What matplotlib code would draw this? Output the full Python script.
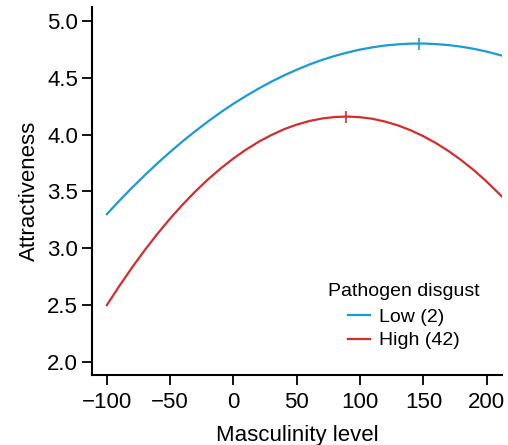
import matplotlib
matplotlib.use("Agg")
import matplotlib.pyplot as plt

plt.rcParams['font.family'] = ['Liberation Sans', 'DejaVu Sans']

masculinity = [-100, -90, -80, -70, -60, -50, -40, -30, -20, -10, 0, 10, 20, 30, 40,
               50, 60, 70, 80, 90, 100, 110, 120, 130, 140, 150, 160, 170, 180, 190, 200, 212]
low_attr = [3.300, 3.420, 3.534, 3.643, 3.748, 3.847, 3.942, 4.031, 4.116, 4.196, 4.271,
            4.340, 4.405, 4.465, 4.520, 4.570, 4.616, 4.656, 4.691, 4.721, 4.747, 4.767,
            4.783, 4.793, 4.799, 4.800, 4.795, 4.786, 4.772, 4.753, 4.729, 4.694]
high_attr = [2.501, 2.671, 2.833, 2.985, 3.128, 3.262, 3.386, 3.501, 3.607, 3.703, 3.790,
             3.868, 3.937, 3.996, 4.047, 4.087, 4.119, 4.141, 4.154, 4.158, 4.152, 4.138,
             4.113, 4.080, 4.037, 3.985, 3.924, 3.854, 3.774, 3.685, 3.586, 3.456]
low_peak = (146.4, 4.800)
high_peak = (89.0, 4.158)
labels = ["Low (2)", "High (42)"]
legend_title = "Pathogen disgust"
xticks = [-100, -50, 0, 50, 100, 150, 200]
yticks = [2.0, 2.5, 3.0, 3.5, 4.0, 4.5, 5.0]

blue = '#1a9bd3'
red = '#d12f2f'

fig = plt.figure(figsize=(5.08, 4.45), dpi=100)
ax = fig.add_axes([0.181, 0.157, 0.807, 0.827])

ax.plot(masculinity, low_attr, color=blue, lw=1.6, label=labels[0])
ax.plot(masculinity, high_attr, color=red, lw=1.6, label=labels[1])
ax.plot([low_peak[0]], [low_peak[1]], marker='|', color=blue, markersize=8, mew=1.2)
ax.plot([high_peak[0]], [high_peak[1]], marker='|', color=red, markersize=8, mew=1.2)

ax.set_xlim(-111.8, 212)
ax.set_ylim(1.885, 5.12)
ax.set_xticks(xticks)
ax.set_xticklabels(['\u2212100' if t == -100 else ('\u221250' if t == -50 else str(t)) for t in xticks])
ax.set_yticks(yticks)
ax.set_yticklabels([f"{t:.1f}" for t in yticks])

for s in ['top', 'right']:
    ax.spines[s].set_visible(False)
for s in ['left', 'bottom']:
    ax.spines[s].set_linewidth(1.5)
ax.tick_params(axis='both', direction='out', length=7, width=1.3, labelsize=16, pad=3)
ax.tick_params(axis='x', pad=5)

ax.set_xlabel("Masculinity level", fontsize=16, labelpad=9)
ax.set_ylabel("Attractiveness", fontsize=16, labelpad=5)

leg = ax.legend(title=legend_title, frameon=False, loc='center',
                bbox_to_anchor=(0.761, 0.160), fontsize=14, title_fontsize=14,
                handlelength=1.1, handletextpad=0.45, labelspacing=0.3,
                borderpad=0.2)
leg._legend_box.sep = 6

fig.savefig("out.png", dpi=100)
